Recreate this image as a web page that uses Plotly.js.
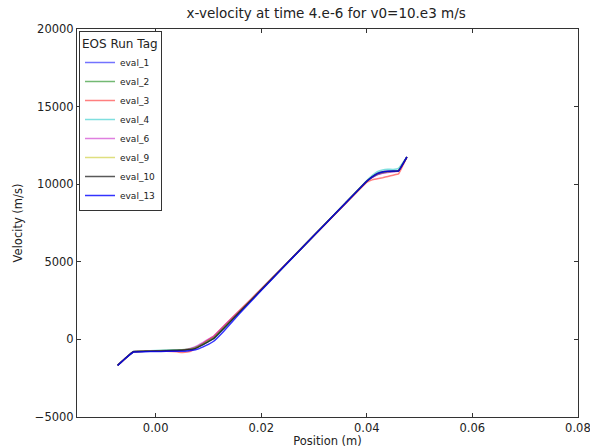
<!DOCTYPE html>
<html>
<head>
<meta charset="utf-8">
<script src="https://cdn.plot.ly/plotly-3.0.1.min.js"></script>
<style>
html,body{margin:0;padding:0;background:#fff;}
#chart{width:590px;height:448px;}
</style>
</head>
<body>
<div id="chart"></div>
<script>
// Positions (m) shared by all runs
const position = [-0.0072,-0.0055,-0.0042,-0.002,0.000,0.002,0.004,0.005,0.006,0.007,0.008,0.009,0.010,0.011,0.013,0.016,0.020,0.024,0.028,0.032,0.036,0.040,0.041,0.042,0.043,0.044,0.045,0.046,0.0476];

// Velocity (m/s) per EOS run
const eval_1  = [-1670,-1150,-790,-760,-740,-720,-700,-690,-660,-620,-500,-330,-130,60,750,1800,3200,4600,6000,7400,8800,10200,10450,10620,10720,10780,10820,10860,11750];
const eval_2  = [-1660,-1140,-780,-750,-730,-710,-690,-670,-630,-570,-440,-260,-60,120,800,1830,3220,4610,6010,7400,8790,10180,10440,10640,10760,10820,10850,10880,11740];
const eval_3  = [-1670,-1160,-800,-770,-760,-760,-800,-850,-820,-700,-480,-250,-20,200,900,1900,3250,4620,6000,7380,8760,10120,10280,10350,10420,10500,10580,10660,11760];
const eval_4  = [-1670,-1150,-780,-740,-720,-700,-690,-680,-650,-600,-480,-310,-110,80,760,1810,3210,4600,6000,7400,8810,10230,10550,10800,10920,10960,10950,11020,11760];
const eval_6  = [-1670,-1140,-780,-760,-750,-730,-720,-700,-640,-540,-380,-190,20,210,890,1880,3240,4620,6000,7390,8780,10180,10430,10600,10700,10760,10800,10840,11750];
const eval_9  = [-1665,-1150,-790,-760,-740,-720,-700,-690,-650,-600,-480,-300,-100,90,780,1820,3210,4600,6000,7400,8800,10200,10460,10650,10750,10800,10840,10880,11750];
const eval_10 = [-1670,-1150,-800,-770,-750,-730,-710,-700,-670,-630,-510,-340,-140,50,740,1790,3190,4590,5990,7390,8790,10190,10480,10700,10800,10830,10840,10860,11750];
const eval_13 = [-1680,-1160,-810,-790,-780,-770,-760,-760,-740,-700,-620,-480,-320,-120,560,1700,3150,4580,5990,7390,8790,10190,10460,10680,10790,10840,10850,10850,11760];

const runNames = ["eval_1","eval_2","eval_3","eval_4","eval_6","eval_9","eval_10","eval_13"];
const runValues = [eval_1, eval_2, eval_3, eval_4, eval_6, eval_9, eval_10, eval_13];
const runColors = ["rgba(0,0,255,0.55)","rgba(0,128,0,0.55)","rgba(255,0,0,0.5)","rgba(0,191,191,0.5)","rgba(191,0,191,0.5)","rgba(191,191,0,0.5)","rgba(0,0,0,0.65)","rgba(0,0,255,0.8)"];

const yTicks = [-5000, 0, 5000, 10000, 15000, 20000];
const xTicks = [0.00, 0.02, 0.04, 0.06, 0.08];

const traces = runNames.map((name, i) => ({
  type: "scatter",
  mode: "lines",
  name: name,
  x: position,
  y: runValues[i],
  line: {color: runColors[i], width: 1.5, shape: "spline", smoothing: 0.3}
}));

const font = {family: "DejaVu Sans, sans-serif", color: "#222"};

const layout = {
  width: 590,
  height: 448,
  margin: {l: 77, r: 12, t: 29, b: 31},
  paper_bgcolor: "#fff",
  plot_bgcolor: "#fff",
  font: Object.assign({size: 11.5}, font),
  title: {
    text: "x-velocity at time 4.e-6 for v0=10.e3 m/s",
    font: Object.assign({size: 13.5}, font),
    x: 0.5528, xanchor: "center",
    y: 0.98, yanchor: "top"
  },
  xaxis: {
    range: [-0.0149, 0.08002],
    tickvals: xTicks,
    tickformat: ".2f",
    ticks: "inside",
    ticklen: 4,
    tickcolor: "#333",
    ticklabeloverflow: "allow",
    showline: true,
    linecolor: "#333",
    linewidth: 1,
    mirror: "allticks",
    showgrid: false,
    zeroline: false,
    tickfont: Object.assign({size: 11.5}, font),
    title: {text: "Position (m)", font: Object.assign({size: 11.5}, font), standoff: 3}
  },
  yaxis: {
    range: [-5000, 20000],
    tickvals: yTicks,
    tickformat: "d",
    ticks: "inside",
    ticklen: 4,
    tickcolor: "#333",
    showline: true,
    linecolor: "#333",
    linewidth: 1,
    mirror: "allticks",
    showgrid: false,
    zeroline: false,
    tickfont: Object.assign({size: 11.5}, font),
    title: {text: "Velocity (m/s)", font: Object.assign({size: 11.5}, font), standoff: 9}
  },
  showlegend: true,
  legend: {
    x: 0.004, y: 0.994,
    xanchor: "left", yanchor: "top",
    bgcolor: "#fff",
    bordercolor: "#333",
    borderwidth: 1,
    font: Object.assign({size: 9}, font),
    title: {text: "EOS Run Tag", font: Object.assign({size: 12}, font)},
    itemwidth: 30,
    tracegroupgap: 0
  }
};

Plotly.newPlot("chart", traces, layout, {displayModeBar: false, staticPlot: true});
</script>
</body>
</html>
